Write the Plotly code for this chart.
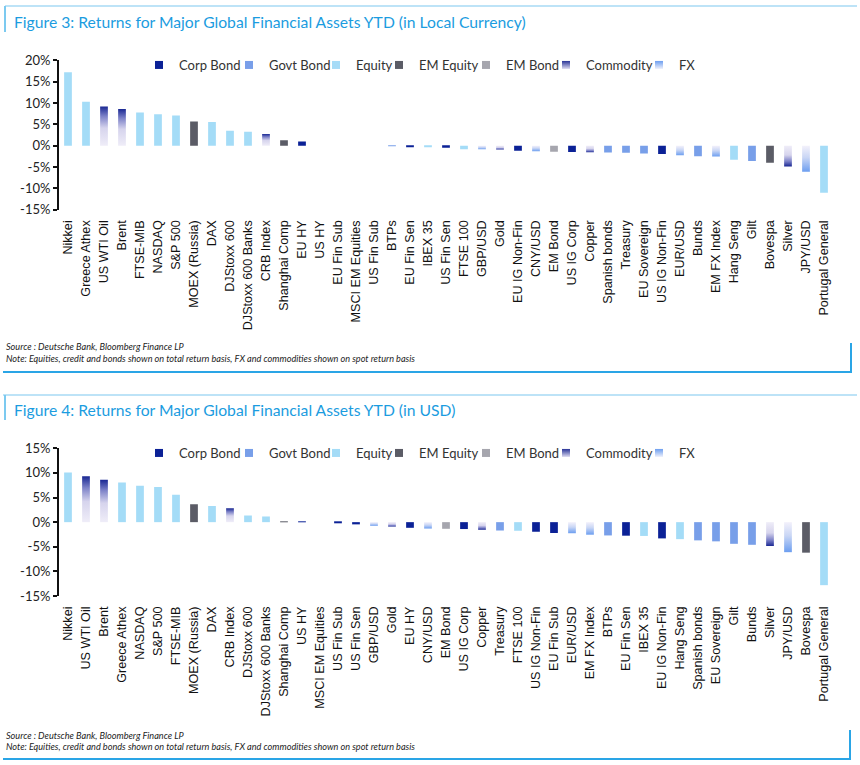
import plotly.graph_objects as go

W, H = 860, 765

# ---------------- data ----------------
cats3 = ["Nikkei", "Greece Athex", "US WTI Oil", "Brent", "FTSE-MIB", "NASDAQ", "S&P 500",
         "MOEX (Russia)", "DAX", "DJStoxx 600", "DJStoxx 600 Banks", "CRB Index", "Shanghai Comp",
         "EU HY", "US HY", "EU Fin Sub", "MSCI EM Equities", "US Fin Sub", "BTPs", "EU Fin Sen",
         "IBEX 35", "US Fin Sen", "FTSE 100", "GBP/USD", "Gold", "EU IG Non-Fin", "CNY/USD",
         "EM Bond", "US IG Corp", "Copper", "Spanish bonds", "Treasury", "EU Sovereign",
         "US IG Non-Fin", "EUR/USD", "Bunds", "EM FX Index", "Hang Seng", "Gilt", "Bovespa",
         "Silver", "JPY/USD", "Portugal General"]
vals3 = [17.2, 10.3, 9.2, 8.6, 7.8, 7.35, 7.1, 5.7, 5.55, 3.5, 3.3, 2.75, 1.3,
         1.0, 0.0, 0.0, 0.0, 0.0, -0.1, -0.3, -0.35, -0.45, -0.8, -0.85, -0.9, -1.2, -1.3,
         -1.4, -1.45, -1.55, -1.6, -1.65, -1.8, -1.95, -2.25, -2.45, -2.55, -3.3, -3.6, -4.0,
         -4.85, -6.1, -11.0]
types3 = ["Equity", "Equity", "Commodity", "Commodity", "Equity", "Equity", "Equity",
          "EM Equity", "Equity", "Equity", "Equity", "Commodity", "EM Equity",
          "Corp Bond", "Corp Bond", "Corp Bond", "EM Equity", "Corp Bond", "Govt Bond", "Corp Bond",
          "Equity", "Corp Bond", "Equity", "FX", "Commodity", "Corp Bond", "FX",
          "EM Bond", "Corp Bond", "Commodity", "Govt Bond", "Govt Bond", "Govt Bond",
          "Corp Bond", "FX", "Govt Bond", "FX", "Equity", "Govt Bond", "EM Equity",
          "Commodity", "FX", "Equity"]

cats4 = ["Nikkei", "US WTI Oil", "Brent", "Greece Athex", "NASDAQ", "S&P 500", "FTSE-MIB",
         "MOEX (Russia)", "DAX", "CRB Index", "DJStoxx 600", "DJStoxx 600 Banks", "Shanghai Comp",
         "US HY", "MSCI EM Equities", "US Fin Sub", "US Fin Sen", "GBP/USD", "Gold", "EU HY",
         "CNY/USD", "EM Bond", "US IG Corp", "Copper", "Treasury", "FTSE 100", "US IG Non-Fin",
         "EU Fin Sub", "EUR/USD", "EM FX Index", "BTPs", "EU Fin Sen", "IBEX 35", "EU IG Non-Fin",
         "Hang Seng", "Spanish bonds", "EU Sovereign", "Gilt", "Bunds", "Silver", "JPY/USD",
         "Bovespa", "Portugal General"]
vals4 = [10.1, 9.3, 8.6, 8.05, 7.4, 7.15, 5.55, 3.65, 3.3, 2.8, 1.35, 1.15, 0.15,
         0.05, 0.0, -0.1, -0.45, -0.75, -0.9, -1.15, -1.3, -1.35, -1.4, -1.55, -1.7, -1.75,
         -1.95, -2.2, -2.25, -2.55, -2.7, -2.75, -2.8, -3.3, -3.45, -3.7, -3.9, -4.4, -4.6,
         -4.85, -6.1, -6.2, -12.8]
types4 = ["Equity", "Commodity", "Commodity", "Equity", "Equity", "Equity", "Equity",
          "EM Equity", "Equity", "Commodity", "Equity", "Equity", "EM Equity",
          "Corp Bond", "EM Equity", "Corp Bond", "Corp Bond", "FX", "Commodity", "Corp Bond",
          "FX", "EM Bond", "Corp Bond", "Commodity", "Govt Bond", "Equity", "Corp Bond",
          "Corp Bond", "FX", "FX", "Govt Bond", "Corp Bond", "Equity", "Corp Bond",
          "Equity", "Govt Bond", "Govt Bond", "Govt Bond", "Govt Bond", "Commodity", "FX",
          "EM Equity", "Equity"]

legend_order = ["Corp Bond", "Govt Bond", "Equity", "EM Equity", "EM Bond", "Commodity", "FX"]
solid_colors = {"Corp Bond": "#0b2196", "Govt Bond": "#789fe9", "Equity": "#a4dcf7",
                "EM Equity": "#5b5c66", "EM Bond": "#a6a6ae"}
grad_scales = {
    "Commodity": [[0, "#efedf8"], [0.45, "#d6d4ed"], [0.75, "#7d82c8"], [1, "#1a2893"]],
    "FX": [[0, "#f3f1fb"], [0.45, "#c9d6f5"], [1, "#6c9ef0"]],
}
legend_marker = {"Commodity": ("#2a3598", "#dcdaf0"), "FX": ("#6c9ef0", "#eef0fb")}

yticks3 = [20, 15, 10, 5, 0, -5, -10, -15]
yticks4 = [15, 10, 5, 0, -5, -10, -15]

titles = ["Figure 3: Returns for Major Global Financial Assets YTD (in Local Currency)",
          "Figure 4: Returns for Major Global Financial Assets YTD (in USD)"]
source_txt = "Source : Deutsche Bank, Bloomberg Finance LP"
note_txt = "Note: Equities, credit and bonds shown on total return basis, FX and commodities shown on spot return basis"

# ---------------- layout geometry (pixels) ----------------
def py(p):  # pixel y -> paper
    return 1 - p / H

def px(p):
    return p / W

BAR_W = 0.43
XL, XR = 59, 833
LEG_MARKER_X = [171, 261, 348, 411, 498, 578, 671]   # legend symbol centres (px)
panels = [
    dict(cats=cats3, vals=vals3, types=types3, yt=yticks3, rng=[-15, 20], top=60.3, bot=209.8,
         ax="", ax0="3", leg_y=65, title_y=22, src_y=347, note_y=358),
    dict(cats=cats4, vals=vals4, types=types4, yt=yticks4, rng=[-15, 15], top=448.3, bot=596,
         ax="2", ax0="4", leg_y=453, title_y=410, src_y=735, note_y=746),
]

TXT = "Lato, 'Open Sans', sans-serif"
LBL = "'Liberation Sans', Arial, sans-serif"

fig = go.Figure()
layout = dict(width=W, height=H, margin=dict(l=0, r=0, t=0, b=0, autoexpand=False),
              paper_bgcolor="white", plot_bgcolor="white", showlegend=True,
              barmode="overlay", annotations=[], shapes=[])

leg_counter = 0
for p_i, pn in enumerate(panels):
    n = len(pn["cats"])
    xa = "x" + pn["ax"]
    ya = "y" + pn["ax"]
    # solid bars by type
    for t in ["Corp Bond", "Govt Bond", "Equity", "EM Equity", "EM Bond"]:
        idx = [i for i, tt in enumerate(pn["types"]) if tt == t]
        fig.add_trace(go.Bar(x=idx, y=[pn["vals"][i] for i in idx], width=BAR_W,
                             marker=dict(color=solid_colors[t], line=dict(width=0)),
                             xaxis=xa, yaxis=ya, showlegend=False, hoverinfo="skip"))
    # gradient bars
    for i, (t, v) in enumerate(zip(pn["types"], pn["vals"])):
        if t in grad_scales and v != 0:
            fig.add_trace(go.Scatter(
                x=[i - BAR_W / 2, i + BAR_W / 2, i + BAR_W / 2, i - BAR_W / 2, i - BAR_W / 2],
                y=[0, 0, v, v, 0], mode="lines", line=dict(width=0, color="rgba(0,0,0,0)"),
                fill="toself",
                fillgradient=dict(type="vertical", colorscale=grad_scales[t], start=0, stop=v),
                xaxis=xa, yaxis=ya, showlegend=False, hoverinfo="skip"))
    # legend entries (one small legend per entry so the spacing follows the original)
    for k, t in enumerate(legend_order):
        if t in solid_colors:
            mk = dict(symbol="square", size=8, color=solid_colors[t])
        else:
            c1, c2 = legend_marker[t]
            mk = dict(symbol="square", size=8, color=c1, gradient=dict(type="vertical", color=c2))
        leg_counter += 1
        lid = "legend" if leg_counter == 1 else f"legend{leg_counter}"
        fig.add_trace(go.Scatter(x=[None], y=[None], mode="markers", marker=mk, name=t,
                                 xaxis=xa, yaxis=ya, legend=lid, showlegend=True))
        layout[lid] = dict(orientation="h", x=px(LEG_MARKER_X[k] - 20), y=py(pn["leg_y"]),
                           xanchor="left", yanchor="middle", bgcolor="rgba(0,0,0,0)",
                           font=dict(family=TXT, size=13, color="#333"),
                           itemwidth=30, borderwidth=0, indentation=-12)

    ydom = [py(pn["bot"]), py(pn["top"])]
    r0, r1 = pn["rng"]
    zero_pos = ydom[0] + (0 - r0) / (r1 - r0) * (ydom[1] - ydom[0])
    layout["xaxis" + pn["ax"]] = dict(
        domain=[px(XL), px(XR)], range=[-0.5, n - 0.5], anchor=ya, automargin=False,
        tickmode="array", tickvals=list(range(n)), ticktext=pn["cats"], tickangle=-90,
        ticks="", showline=False, showgrid=False, zeroline=False, ticklabelstandoff=7,
        tickfont=dict(family=LBL, size=12.6, color="#111"), fixedrange=True)
    layout["xaxis" + pn["ax0"]] = dict(
        overlaying=xa, anchor="free", position=zero_pos, range=[-0.5, n - 0.5],
        automargin=False,
        tickmode="array", tickvals=[k - 0.5 for k in range(n + 1)], showticklabels=False,
        ticks="outside", ticklen=4, tickwidth=1.6, tickcolor="#111",
        showline=True, linecolor="#111", linewidth=2, showgrid=False, zeroline=False)
    layout["yaxis" + pn["ax"]] = dict(
        domain=ydom, range=pn["rng"], anchor=xa, automargin=False,
        tickmode="array", tickvals=pn["yt"],
        ticktext=[f"{v}%" for v in pn["yt"]], ticks="outside", ticklen=4, tickwidth=1.6,
        tickcolor="#111", showline=True, linecolor="#111", linewidth=2, showgrid=False,
        zeroline=False, tickfont=dict(family=TXT, size=13, color="#222"))
    layout["annotations"] += [
        dict(text=titles[p_i], x=px(12), y=py(pn["title_y"]), xref="paper",
             yref="paper", xanchor="left", yanchor="middle", showarrow=False,
             font=dict(family=TXT, size=15.7, color="#1b9ce0")),
        dict(text="<i>" + source_txt + "</i>", x=px(4), y=py(pn["src_y"]), xref="paper",
             yref="paper", xanchor="left", yanchor="middle", showarrow=False,
             font=dict(family=TXT, size=9.15, color="#222")),
        dict(text="<i>" + note_txt + "</i>", x=px(4), y=py(pn["note_y"]), xref="paper",
             yref="paper", xanchor="left", yanchor="middle", showarrow=False,
             font=dict(family=TXT, size=9.15, color="#222")),
    ]

# frame decorations
light = "#a7daf4"
dark = "#2aa5e6"
def seg(x0, y0, x1, y1, c, w):
    return dict(type="line", xref="paper", yref="paper", x0=px(x0), y0=py(y0), x1=px(x1),
                y1=py(y1), line=dict(color=c, width=w))

layout["shapes"] = [
    seg(5, 6, 857, 6, light, 1.5), seg(5, 6, 5, 32, "#7ccaf0", 2),
    seg(3, 372, 852, 372, dark, 2), seg(851, 343, 851, 372, dark, 2),
    seg(3, 395, 857, 395, light, 1.5), seg(5, 395, 5, 420, "#7ccaf0", 2),
    seg(3, 759, 851, 759, dark, 2), seg(850, 730, 850, 759, dark, 2),
]

fig.update_layout(**layout)
fig.write_html("out.html", config={"displayModeBar": False},
               post_script="document.body.style.margin='0';document.body.style.overflow='hidden';")
